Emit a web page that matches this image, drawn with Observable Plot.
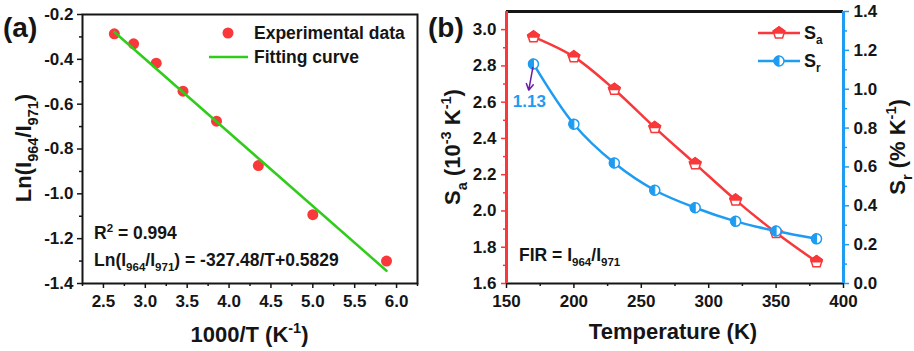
<!DOCTYPE html>
<html><head><meta charset="utf-8">
<script src="https://cdn.jsdelivr.net/npm/d3@7"></script>
<script src="https://cdn.jsdelivr.net/npm/@observablehq/plot@0.6"></script>
<style>
html,body{margin:0;padding:0;background:#fff;}
#wrap{position:relative;width:914px;height:351px;overflow:hidden;}
#wrap > svg{position:absolute;top:0;}
</style></head><body><div id="wrap"></div>
<script>
// ---------- data ----------
const tempK   = [170, 200, 230, 260, 290, 320, 350, 380];
const invT    = [5.88, 5.00, 4.35, 3.85, 3.45, 3.13, 2.86, 2.63];
const lnFIR   = [-1.300, -1.093, -0.874, -0.676, -0.542, -0.417, -0.331, -0.286];
const fitX    = [2.63, 5.88];
const fitY    = [-0.278, -1.343];
const Sa      = [2.96, 2.85, 2.67, 2.46, 2.26, 2.06, 1.88, 1.72];
const Sr      = [1.13, 0.82, 0.62, 0.48, 0.39, 0.32, 0.27, 0.23];
const peakLabel = "1.13";
const arrowFrom = [169.5, 1.11], arrowTo = [166.5, 0.995], labelAt = [167, 0.935];

// ticks
const xTicksA  = [2.5, 3.0, 3.5, 4.0, 4.5, 5.0, 5.5, 6.0];
const xMinorA  = [2.25, 2.75, 3.25, 3.75, 4.25, 4.75, 5.25, 5.75, 6.25];
const yTicksA  = [-1.4, -1.2, -1.0, -0.8, -0.6, -0.4, -0.2];
const yMinorA  = [-1.3, -1.1, -0.9, -0.7, -0.5, -0.3];
const tempTicks = [150, 200, 250, 300, 350, 400];
const tempMinor = [175, 225, 275, 325, 375];
const saTicks  = [1.6, 1.8, 2.0, 2.2, 2.4, 2.6, 2.8, 3.0];
const saMinor  = [1.7, 1.9, 2.1, 2.3, 2.5, 2.7, 2.9];
const srTicks  = [0.0, 0.2, 0.4, 0.6, 0.8, 1.0, 1.2, 1.4];
const srMinor  = [0.1, 0.3, 0.5, 0.7, 0.9, 1.1, 1.3];

// ---------- style ----------
const RED = "#f8383a", BLUE = "#1e9cf2", GREEN = "#2fcc1a", PURPLE = "#6a1aa8", INK = "#151515";
const FONT = '"Liberation Sans", Arial, sans-serif';
const baseStyle = `font-family: ${FONT}; font-size: 17px; font-weight: bold; color: ${INK}; background: transparent; overflow: visible;`;
const tf = {fontFamily: FONT, fontSize: 17, fontWeight: "bold", label: null, strokeWidth: 1.5};

const PENT = [[0,-1],[0.951,-0.309],[0.588,0.809],[-0.588,0.809],[-0.951,-0.309]];
const PENT_TOP = [[0,-1],[0.951,-0.309],[0.851,0],[-0.851,0],[-0.951,-0.309]];
function poly(pts){return {draw(c,size){const r=Math.sqrt(size/Math.PI)*1.1;pts.forEach(([x,y],i)=>i?c.lineTo(x*r,y*r):c.moveTo(x*r,y*r));c.closePath();}};}
const pentFull = poly(PENT), pentTop = poly(PENT_TOP);
const circFull = {draw(c,size){const r=Math.sqrt(size/Math.PI);c.moveTo(r,0);c.arc(0,0,r,0,2*Math.PI);c.closePath();}};
const circLeft = {draw(c,size){const r=Math.sqrt(size/Math.PI);c.moveTo(0,-r);c.arc(0,0,r,-Math.PI/2,Math.PI/2,true);c.closePath();}};

const ptsA = invT.map((x,i)=>({x, y: lnFIR[i]}));
const fit = fitX.map((x,i)=>({x, y: fitY[i]}));
const saData = tempK.map((t,i)=>({t, v: Sa[i]}));
const srData = tempK.map((t,i)=>({t, v: Sr[i]}));

const wrap = document.getElementById("wrap");

// ---------- panel (a) ----------
const left = Plot.plot({
  width: 440, height: 351, marginLeft: 82, marginRight: 23, marginTop: 14, marginBottom: 68,
  x: {domain: [2.25, 6.25], axis: null}, y: {domain: [-1.4, -0.2], axis: null},
  style: baseStyle,
  marks: [
    Plot.axisX({...tf, ticks: xMinorA, tickSize: 3, tickFormat: () => ""}),
    Plot.axisX({...tf, ticks: xTicksA, tickSize: 5, tickPadding: 6, tickFormat: d => d.toFixed(1)}),
    Plot.axisY({...tf, ticks: yMinorA, tickSize: 3, tickFormat: () => ""}),
    Plot.axisY({...tf, ticks: yTicksA, tickSize: 5, tickPadding: 4, tickFormat: d => d.toFixed(1)}),
    Plot.frame({stroke: INK, strokeWidth: 2}),
    Plot.dot(ptsA, {x: "x", y: "y", r: 5.5, fill: RED}),
    Plot.line(fit, {x: "x", y: "y", stroke: GREEN, strokeWidth: 2.5})
  ]
});
left.style.left = "0px";
wrap.appendChild(left);

// ---------- panel (b), S_a ----------
const dimsB = {width: 474, height: 351, marginLeft: 66, marginRight: 71, marginTop: 11, marginBottom: 68};
const rightA = Plot.plot({
  ...dimsB,
  x: {domain: [150, 400], axis: null}, y: {domain: [1.6, 3.1], axis: null},
  style: baseStyle,
  marks: [
    Plot.axisX({...tf, ticks: tempMinor, tickSize: 3, tickFormat: () => ""}),
    Plot.axisX({...tf, ticks: tempTicks, tickSize: 5, tickPadding: 6, tickFormat: d => String(d)}),
    Plot.axisY({...tf, ticks: saMinor, tickSize: 3, tickFormat: () => "", stroke: RED}),
    Plot.axisY({...tf, ticks: saTicks, tickSize: 5, tickPadding: 5, tickFormat: d => d.toFixed(1), stroke: RED}),
    Plot.ruleY([3.1], {stroke: INK, strokeWidth: 3}),
    Plot.ruleY([1.6], {stroke: INK, strokeWidth: 2}),
    Plot.ruleX([150], {stroke: RED, strokeWidth: 3}),
    Plot.line(saData, {x: "t", y: "v", stroke: RED, strokeWidth: 2.5, curve: "catmull-rom"}),
    Plot.dot(saData, {x: "t", y: "v", r: 5.5, symbol: pentFull, fill: "white", stroke: RED, strokeWidth: 1.5}),
    Plot.dot(saData, {x: "t", y: "v", r: 5.5, symbol: pentTop, fill: RED, stroke: RED, strokeWidth: 1.5})
  ]
});
rightA.style.left = "440px";
wrap.appendChild(rightA);

// ---------- panel (b), S_r ----------
const rightB = Plot.plot({
  ...dimsB,
  x: {domain: [150, 400], axis: null}, y: {domain: [0, 1.4], axis: null},
  style: baseStyle,
  marks: [
    Plot.axisY({...tf, anchor: "right", ticks: srMinor, tickSize: 3, tickFormat: () => "", stroke: BLUE}),
    Plot.axisY({...tf, anchor: "right", ticks: srTicks, tickSize: 5, tickPadding: 5, tickFormat: d => d.toFixed(1), stroke: BLUE}),
    Plot.ruleX([400], {stroke: BLUE, strokeWidth: 3}),
    Plot.line(srData, {x: "t", y: "v", stroke: BLUE, strokeWidth: 2.5, curve: "catmull-rom"}),
    Plot.dot(srData, {x: "t", y: "v", r: 5, symbol: circFull, fill: "white", stroke: BLUE, strokeWidth: 1.5}),
    Plot.dot(srData, {x: "t", y: "v", r: 5, symbol: circLeft, fill: BLUE, stroke: BLUE, strokeWidth: 1}),
    Plot.arrow([0], {x1: arrowFrom[0], y1: arrowFrom[1], x2: arrowTo[0], y2: arrowTo[1], stroke: PURPLE, strokeWidth: 1.5, headLength: 7}),
    Plot.text([peakLabel], {x: labelAt[0], y: labelAt[1], text: d => d, fill: BLUE, fontSize: 17, fontWeight: "bold", fontFamily: FONT})
  ]
});
rightB.style.left = "440px";
wrap.appendChild(rightB);

// ---------- texts: titles, legends, labels ----------
const ann = d3.select(wrap).append("svg").attr("width", 914).attr("height", 351)
  .style("left", "0px").style("pointer-events", "none").style("overflow", "visible");

function rich(x, y, parts, {size = 17, anchor = "start", rotate = 0, fill = INK} = {}) {
  const t = ann.append("text").attr("font-family", FONT).attr("font-weight", "bold")
    .attr("font-size", size).attr("fill", fill).attr("text-anchor", anchor)
    .attr("transform", `translate(${x},${y}) rotate(${rotate})`);
  let cur = 0;
  for (const [s, kind] of parts) {
    const target = kind === "sub" ? 0.3 * size : kind === "sup" ? -0.42 * size : 0;
    const fs = kind ? 0.66 * size : size;
    t.append("tspan").attr("dy", target - cur).attr("font-size", fs).text(s);
    cur = target;
  }
}

// panel labels
rich(3, 37, [["(a)"]], {size: 28});
rich(428, 37, [["(b)"]], {size: 28});

// panel (a) titles
rich(249.5, 342, [["1000/T (K"], ["-1", "sup"], [")"]], {size: 22, anchor: "middle"});
rich(31, 148, [["Ln(I"], ["964", "sub"], ["/I"], ["971", "sub"], [")"]], {size: 22, anchor: "middle", rotate: -90});

// panel (a) legend
ann.append("circle").attr("cx", 228).attr("cy", 33).attr("r", 5.5).attr("fill", RED);
rich(254, 39, [["Experimental data"]], {size: 17.5});
ann.append("line").attr("x1", 209).attr("x2", 248).attr("y1", 57).attr("y2", 57).attr("stroke", GREEN).attr("stroke-width", 2.5);
rich(254, 63, [["Fitting curve"]], {size: 17.5});

// panel (a) annotations
rich(94, 239, [["R"], ["2", "sup"], [" = 0.994"]], {size: 17.5});
rich(94, 266, [["Ln(I"], ["964", "sub"], ["/I"], ["971", "sub"], [") = -327.48/T+0.5829"]], {size: 17.5});

// panel (b) titles
rich(673, 339, [["Temperature (K)"]], {size: 22, anchor: "middle"});
rich(460, 147, [["S"], ["a", "sub"], [" (10"], ["-3", "sup"], [" K"], ["-1", "sup"], [")"]], {size: 22, anchor: "middle", rotate: -90});
rich(905, 147, [["S"], ["r", "sub"], [" (% K"], ["-1", "sup"], [")"]], {size: 22, anchor: "middle", rotate: -90});

// panel (b) legend
const symPath = (sym, r) => d3.symbol(sym, r * r * Math.PI)();
ann.append("line").attr("x1", 758).attr("x2", 800).attr("y1", 33).attr("y2", 33).attr("stroke", RED).attr("stroke-width", 2.5);
ann.append("path").attr("d", symPath(pentFull, 5.5)).attr("transform", "translate(779,33)").attr("fill", "white").attr("stroke", RED).attr("stroke-width", 1.5);
ann.append("path").attr("d", symPath(pentTop, 5.5)).attr("transform", "translate(779,33)").attr("fill", RED).attr("stroke", RED).attr("stroke-width", 1.5);
rich(804, 39, [["S"], ["a", "sub"]], {size: 18});
ann.append("line").attr("x1", 758).attr("x2", 800).attr("y1", 61).attr("y2", 61).attr("stroke", BLUE).attr("stroke-width", 2.5);
ann.append("path").attr("d", symPath(circFull, 5)).attr("transform", "translate(779,61)").attr("fill", "white").attr("stroke", BLUE).attr("stroke-width", 1.5);
ann.append("path").attr("d", symPath(circLeft, 5)).attr("transform", "translate(779,61)").attr("fill", BLUE).attr("stroke", BLUE).attr("stroke-width", 1);
rich(804, 67, [["S"], ["r", "sub"]], {size: 18});

// FIR
rich(519, 261, [["FIR = I"], ["964", "sub"], ["/I"], ["971", "sub"]], {size: 17.5});
</script></body></html>
